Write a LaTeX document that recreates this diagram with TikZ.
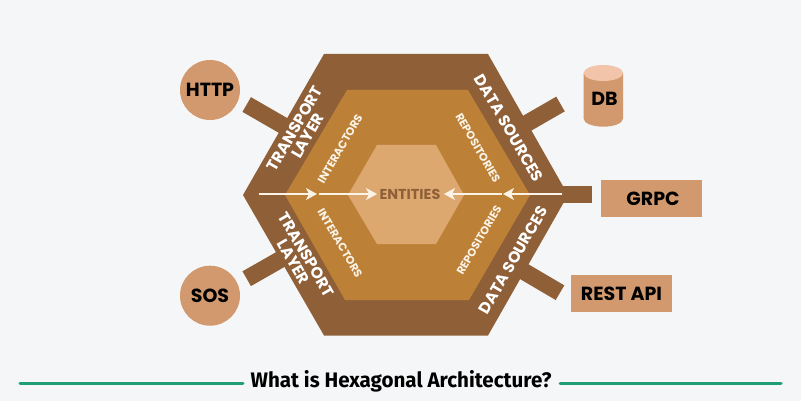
\documentclass[tikz,border=0pt]{standalone}
\usepackage{fontspec}
\setmainfont{Poppins}
\newfontfamily\titlefont[FakeStretch=0.98]{Fira Sans}
\usepackage{xcolor}
\usetikzlibrary{arrows.meta}
\definecolor{bgcol}{HTML}{F4F6F8}
\definecolor{outercol}{HTML}{8F5F38}
\definecolor{middlecol}{HTML}{BC8037}
\definecolor{innercol}{HTML}{DDA870}
\definecolor{boxcol}{HTML}{D2996F}
\definecolor{lidcol}{HTML}{F2C5AA}
\definecolor{creamcol}{HTML}{FBF3E6}
\definecolor{greencol}{HTML}{1F9D73}
\tikzset{
  link/.style={draw=outercol, line width=17pt},
  client/.style={circle, fill=boxcol, minimum size=60pt, inner sep=0pt, font=\bfseries\fontsize{19}{19}\selectfont},
  source/.style={fill=boxcol, minimum width=101pt, minimum height=37pt, inner sep=0pt, font=\bfseries\fontsize{19}{19}\selectfont},
  layerlabel/.style={text=white, align=center, inner sep=0pt, font=\bfseries\fontsize{15.8}{15}\selectfont},
  sublabel/.style={text=creamcol, inner sep=0pt, font=\bfseries\fontsize{11.2}{11}\selectfont},
  flow/.style={draw=creamcol, line width=1.4pt, -{Stealth[length=11pt, width=12pt, inset=3pt, fill=creamcol]}},
  rule/.style={draw=greencol, line width=3pt, line cap=round}
}
\begin{document}
\begin{tikzpicture}[x=1pt, y=-1pt]
  \fill[bgcol] (0,0) rectangle (801,401);
  \useasboundingbox (0,0) rectangle (801,401);
  % outer ends of the stubs
  \coordinate (HttpEnd) at (246.7,104.5);
  \coordinate (HttpIn) at (290,129.5);
  \coordinate (SosEnd) at (246.7,278.7);
  \coordinate (SosIn) at (290,254);
  \coordinate (DbEnd) at (560.5,104);
  \coordinate (DbIn) at (518,128.5);
  \coordinate (GrpcEnd) at (592,194.5);
  \coordinate (GrpcIn) at (550,194.5);
  \coordinate (RestEnd) at (560,292.7);
  \coordinate (RestIn) at (518,268);
  \draw[link] (HttpEnd) -- (HttpIn);
  \draw[link] (SosEnd) -- (SosIn);
  \draw[link] (DbEnd) -- (DbIn);
  \draw[link] (GrpcEnd) -- (GrpcIn);
  \draw[link] (RestEnd) -- (RestIn);
  % hexagons
  \fill[outercol] (324,54) -- (488,54) -- (568,195) -- (488,335.5) -- (324,335.5) -- (243,195) -- cycle;
  \fill[middlecol] (347,90) -- (468,90) -- (530,195) -- (469,300) -- (345,300) -- (285,195) -- cycle;
  \fill[innercol] (377,145) -- (436,145) -- (464,195) -- (436,244) -- (377,244) -- (348,195) -- cycle;
  % clients
  \node[client](HTTP) at (210,90) {HTTP};
  \node[client](SOS) at (210,295.7) {SOS};
  \node[source](GRPC) at (651.5,198.5) {\hspace{3pt}GRPC};
  \node[source](REST) at (621.5,293.5) {REST API};
  \fill[boxcol] (583.7,73) -- (583.7,118.7) arc[start angle=180, end angle=360, x radius=19.65pt, y radius=8pt] -- (623,73) -- cycle;
  \fill[lidcol] (603.35,73) ellipse[x radius=19.65pt, y radius=8pt];
  \node[inner sep=0pt, font=\bfseries\fontsize{19}{19}\selectfont](DB) at (604.5,99) {DB};
  % labels
  \node[layerlabel, rotate=60](TransportTop) at (301,132) {TRANSPORT\\LAYER};
  \node[layerlabel, rotate=-60](TransportBottom) at (300,258) {TRANSPORT\\LAYER};
  \node[layerlabel, rotate=-60](DataTop) at (509,128) {DATA SOURCES};
  \node[layerlabel, rotate=60](DataBottom) at (513,260) {DATA SOURCES};
  \node[sublabel, rotate=60](InterTop) at (340,149) {INTERACTORS};
  \node[sublabel, rotate=-60](InterBottom) at (340,243) {INTERACTORS};
  \node[sublabel, rotate=-60](RepoTop) at (478,148) {REPOSITORIES};
  \node[sublabel, rotate=60](RepoBottom) at (479,240) {REPOSITORIES};
  \node[text=outercol, inner sep=0pt, font=\bfseries\fontsize{14.4}{14}\selectfont](Entities) at (410,194) {ENTITIES};
  % arrows
  \coordinate (LeftA) at (259,194);
  \coordinate (LeftB) at (317,194);
  \coordinate (LeftC) at (319,194);
  \coordinate (LeftD) at (377,194);
  \coordinate (RightA) at (562,194);
  \coordinate (RightB) at (503,194);
  \coordinate (RightC) at (502,194);
  \coordinate (RightD) at (444,194);
  \draw[flow] (LeftA) -- (LeftB);
  \draw[flow] (LeftC) -- (LeftD);
  \draw[flow] (RightA) -- (RightB);
  \draw[flow] (RightC) -- (RightD);
  % caption
  \node[inner sep=0pt, font=\titlefont\bfseries\fontsize{21}{21}\selectfont](Title) at (401,381.5) {What is Hexagonal Architecture?};
  \coordinate (RuleA) at (20,383.7);
  \coordinate (RuleB) at (243,383.7);
  \coordinate (RuleC) at (560,383.7);
  \coordinate (RuleD) at (781,383.7);
  \draw[rule] (RuleA) -- (RuleB);
  \draw[rule] (RuleC) -- (RuleD);
\end{tikzpicture}
\end{document}
